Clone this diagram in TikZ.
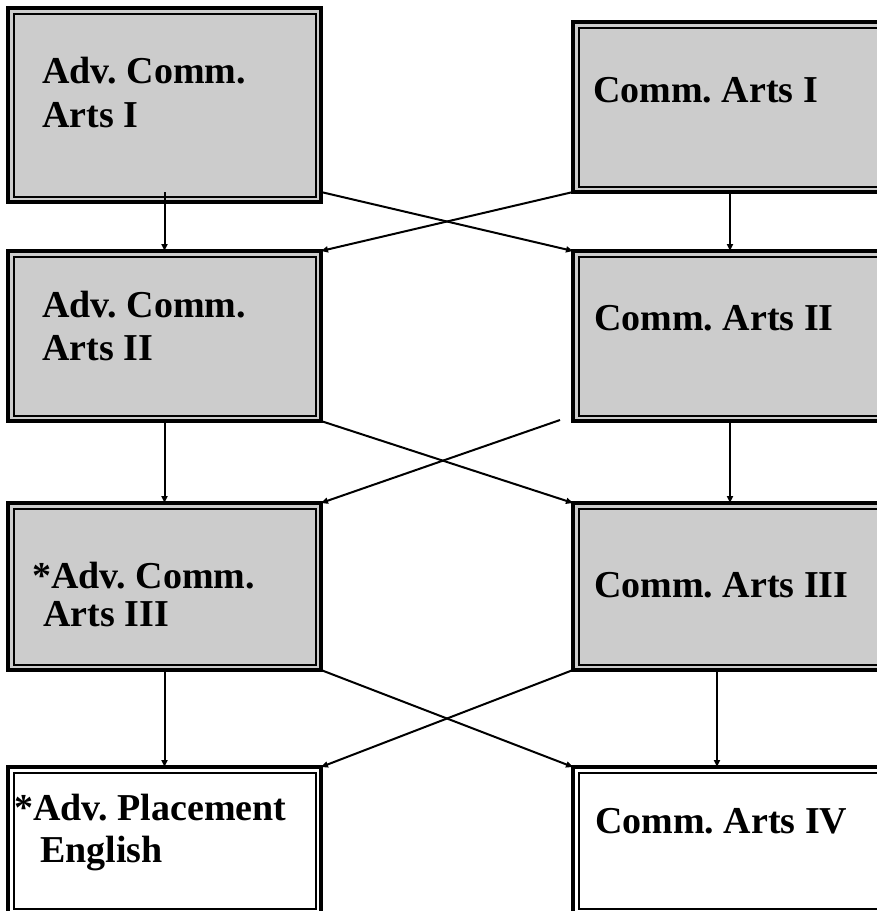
\documentclass[tikz,border=0pt]{standalone}
\usepackage{fontspec}
\setmainfont{Liberation Serif}
\usetikzlibrary{arrows.meta}
\definecolor{boxgray}{HTML}{CCCCCC}
\frenchspacing
\tikzset{
  box/.style={draw, line width=4pt, inner sep=0pt, outer sep=0pt, anchor=north west},
  gbox/.style={box, fill=boxgray},
  wbox/.style={box, fill=white},
  innerline/.style={line width=2pt},
  lab/.style={anchor=base west, inner sep=0pt, font=\frenchspacing\bfseries\fontsize{38}{44}\selectfont},
  arr/.style={line width=2pt, -{Triangle[length=7pt,width=6pt]}},
}
\newcommand{\innerframe}[1]{\draw[innerline] ([xshift=5.5pt,yshift=-5.5pt]#1.north west) rectangle ([xshift=-5.5pt,yshift=5.5pt]#1.south east);}
\begin{document}
\begin{tikzpicture}[x=1pt,y=-1pt]
\useasboundingbox (0,0) rectangle (877,911);
% boxes
\node[gbox, minimum width=313pt, minimum height=194pt] (L1) at (8,8) {};
\node[gbox, minimum width=314pt, minimum height=170pt] (R1) at (573,22) {};
\node[gbox, minimum width=313pt, minimum height=170pt] (L2) at (8,251) {};
\node[gbox, minimum width=314pt, minimum height=170pt] (R2) at (573,251) {};
\node[gbox, minimum width=313pt, minimum height=167pt] (L3) at (8,503) {};
\node[gbox, minimum width=314pt, minimum height=167pt] (R3) at (573,503) {};
\node[wbox, minimum width=313pt, minimum height=147pt] (L4) at (8,767) {};
\node[wbox, minimum width=314pt, minimum height=147pt] (R4) at (573,767) {};
\innerframe{L1}\innerframe{R1}\innerframe{L2}\innerframe{R2}
\innerframe{L3}\innerframe{R3}\innerframe{L4}\innerframe{R4}
% labels
\node[lab] (t1a) at (42,83) {Adv. Comm.};
\node[lab] (t1b) at (42,127) {Arts I};
\node[lab] (t2) at (593,102) {Comm. Arts I};
\node[lab] (t3a) at (42,317) {Adv. Comm.};
\node[lab] (t3b) at (42,360) {Arts II};
\node[lab] (t4) at (594,330) {Comm. Arts II};
\node[lab] (t5a) at (32,588) {*Adv. Comm.};
\node[lab] (t5b) at (43,626) {Arts III};
\node[lab] (t6) at (594,597) {Comm. Arts III};
\node[lab] (t7a) at (14,820) {*Adv. Placement};
\node[lab] (t7b) at (40,862) {English};
\node[lab] (t8) at (595,833) {Comm. Arts IV};
% vertical arrows
\draw[arr] ([yshift=10pt]L1.south) -- (L2.north);
\draw[arr] (R1.south) -- (R2.north);
\draw[arr] (L2.south) -- (L3.north);
\draw[arr] (R2.south) -- (R3.north);
\draw[arr] (L3.south) -- (L4.north);
\draw[arr] ([xshift=-13pt]R3.south) -- ([xshift=-13pt]R4.north);
% diagonal arrows
\draw[arr] ([yshift=10pt]L1.south east) -- (R2.north west);
\draw[arr] (R1.south west) -- (L2.north east);
\draw[arr] (L2.south east) -- (R3.north west);
\draw[arr] ([xshift=-13pt,yshift=1pt]R2.south west) -- (L3.north east);
\draw[arr] (L3.south east) -- (R4.north west);
\draw[arr] (R3.south west) -- (L4.north east);
\end{tikzpicture}
\end{document}
